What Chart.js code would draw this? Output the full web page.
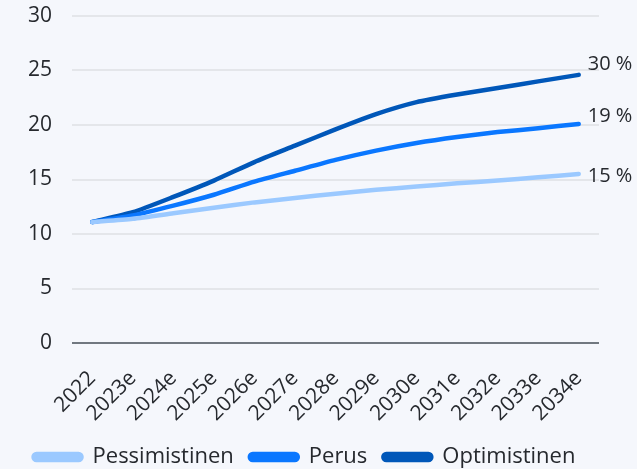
<!DOCTYPE html>
<html>
<head>
<meta charset="utf-8">
<script src="https://cdn.jsdelivr.net/npm/chart.js@4"></script>
<style>
  html, body { margin: 0; padding: 0; background: #f5f7fc; overflow: hidden; }
  #wrap { width: 637px; height: 478px; position: relative; }
</style>
</head>
<body>
<div id="wrap"><canvas id="growthChart"></canvas></div>
<script>
const years = ['2022', '2023e', '2024e', '2025e', '2026e', '2027e', '2028e', '2029e', '2030e', '2031e', '2032e', '2033e', '2034e'];
const pessimistic = [11.1, 11.4, 11.9, 12.4, 12.9, 13.3, 13.7, 14.05, 14.35, 14.65, 14.9, 15.2, 15.5];
const base = [11.1, 11.7, 12.6, 13.6, 14.8, 15.8, 16.8, 17.65, 18.35, 18.9, 19.35, 19.7, 20.1];
const optimistic = [11.1, 12.0, 13.4, 14.9, 16.6, 18.1, 19.6, 21.0, 22.1, 22.8, 23.4, 24.0, 24.6];
const endLabels = ['15 %', '19 %', '30 %'];
const yTicks = [0, 5, 10, 15, 20, 25, 30];

const textColor = '#26292e';
const fontFamily = "'Open Sans', 'Noto Sans', sans-serif";
const endLabelShift = [2, -8, -11];

const endLabelPlugin = {
    id: 'endLabels',
    afterDatasetsDraw(chart) {
        const ctx = chart.ctx;
        ctx.save();
        ctx.font = `20px ${fontFamily}`;
        ctx.fillStyle = textColor;
        ctx.textBaseline = 'middle';
        chart.data.datasets.forEach((ds, i) => {
            const meta = chart.getDatasetMeta(i);
            const last = meta.data[meta.data.length - 1];
            ctx.fillText(endLabels[i], last.x + 9, last.y + endLabelShift[i]);
        });
        ctx.restore();
    },
};

const ctx = document.getElementById('growthChart').getContext('2d');
new Chart(ctx, {
    type: 'line',
    data: {
        labels: years,
        datasets: [
            { label: 'Pessimistinen', data: pessimistic, borderColor: '#9bc9ff', backgroundColor: '#9bc9ff' },
            { label: 'Perus', data: base, borderColor: '#0a77ff', backgroundColor: '#0a77ff' },
            { label: 'Optimistinen', data: optimistic, borderColor: '#0057b9', backgroundColor: '#0057b9' },
        ],
    },
    options: {
        responsive: true,
        maintainAspectRatio: false,
        animation: false,
        elements: {
            line: { borderWidth: 4.5, tension: 0.2, borderCapStyle: 'round', borderJoinStyle: 'round', fill: false },
            point: { radius: 0 },
        },
        layout: { padding: { top: 16, right: 38, left: 10, bottom: 0 } },
        plugins: {
            legend: {
                position: 'bottom',
                labels: {
                    color: textColor,
                    font: { family: fontFamily, size: 22 },
                    boxWidth: 48,
                    boxHeight: 6,
                    padding: 16,
                    useBorderRadius: true,
                    borderRadius: 3,
                },
            },
            tooltip: { enabled: false },
        },
        scales: {
            x: {
                offset: true,
                grid: { display: false },
                border: { display: false },
                afterFit(axis) {
                    axis.height = 87;
                },
                ticks: {
                    color: textColor,
                    font: { family: fontFamily, size: 21 },
                    maxRotation: 45,
                    minRotation: 45,
                    padding: 15,
                },
            },
            y: {
                min: 0,
                max: 30,
                afterBuildTicks(axis) {
                    axis.ticks = yTicks.map((v) => ({ value: v }));
                },
                afterFit(axis) {
                    axis.width = 62;
                    axis.paddingTop = 0;
                    axis.paddingBottom = 0;
                },
                border: { display: false },
                grid: {
                    drawTicks: false,
                    lineWidth: 2,
                    color: (c) => (c.tick && c.tick.value === 0 ? '#717880' : '#e4e6ea'),
                },
                ticks: {
                    color: textColor,
                    font: { family: fontFamily, size: 21 },
                    padding: 20,
                },
            },
        },
    },
    plugins: [endLabelPlugin],
});
</script>
</body>
</html>
